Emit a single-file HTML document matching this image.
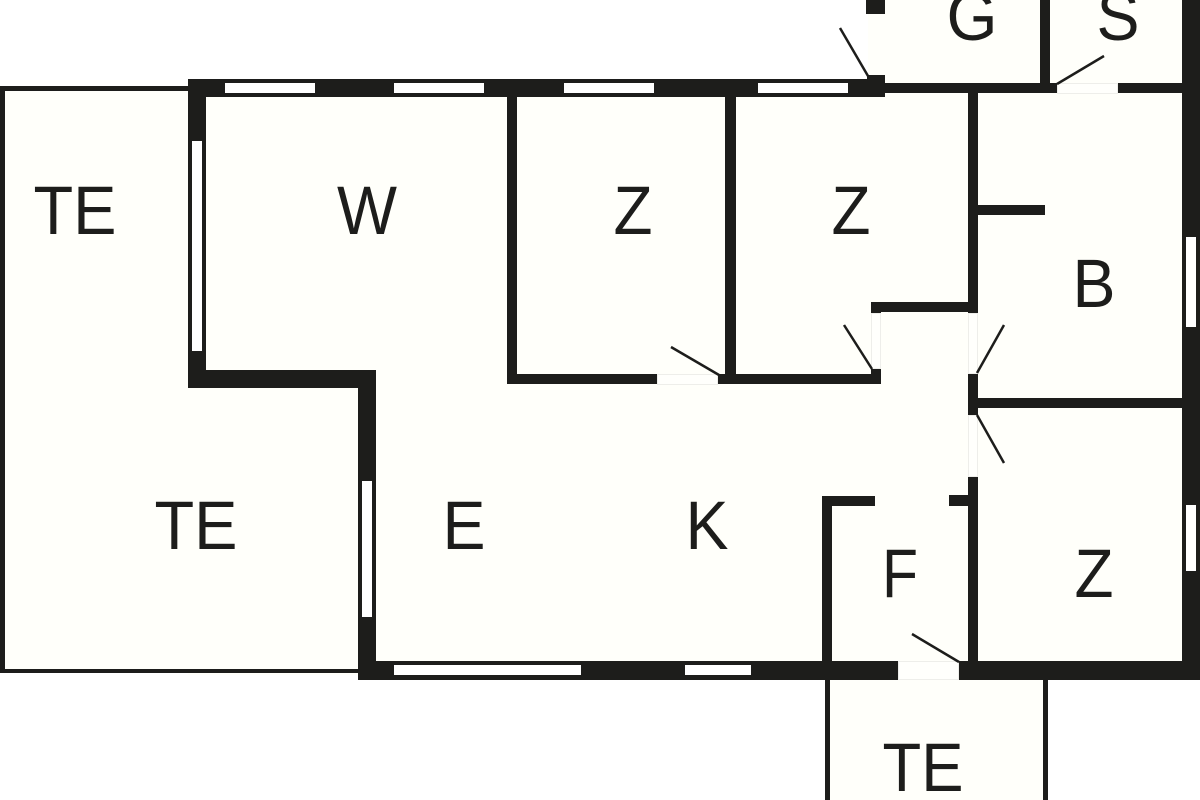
<!DOCTYPE html>
<html>
<head>
<meta charset="utf-8">
<style>
html,body{margin:0;padding:0;background:#fff}
svg{display:block}
text{font-family:"Liberation Sans",Arial,sans-serif;font-size:69px;fill:#1d1d1b;text-anchor:middle}
</style>
</head>
<body>
<svg width="1200" height="800" viewBox="0 0 1200 800" xmlns="http://www.w3.org/2000/svg">
<rect width="1200" height="800" fill="#ffffff"/>
<!-- floor fill -->
<g fill="#fffffa">
<rect x="0" y="86" width="200" height="587"/>
<rect x="190" y="370" width="186" height="303"/>
<rect x="188" y="80" width="1012" height="595"/>
<rect x="868" y="0" width="320" height="90"/>
<rect x="825" y="670" width="223" height="130"/>
</g>
<!-- walls -->
<g fill="#1d1d1b">
<!-- terrace outlines -->
<rect x="0" y="86" width="190" height="5"/>
<rect x="0" y="86" width="5" height="587"/>
<rect x="0" y="669" width="360" height="4"/>
<rect x="825" y="679" width="5" height="121"/>
<rect x="1043" y="679" width="5" height="121"/>
<!-- outer heavy walls -->
<rect x="188" y="79" width="697" height="18"/>
<rect x="867" y="75" width="18" height="22"/>
<rect x="188" y="79" width="18" height="309"/>
<rect x="188" y="370" width="188" height="18"/>
<rect x="358" y="370" width="18" height="310"/>
<rect x="358" y="661" width="540" height="19"/>
<rect x="959" y="661" width="241" height="19"/>
<rect x="1182" y="0" width="18" height="680"/>
<!-- G block -->
<rect x="866" y="0" width="19" height="14"/>
<!-- thin walls -->
<rect x="885" y="83" width="172" height="10"/>
<rect x="1118" y="83" width="64" height="10"/>
<rect x="1040" y="0" width="10" height="93"/>
<rect x="968" y="93" width="10" height="220"/>
<rect x="978" y="205" width="67" height="10"/>
<rect x="871" y="302" width="107" height="10"/>
<rect x="871" y="302" width="10" height="11"/>
<rect x="871" y="368" width="10" height="16"/>
<rect x="507" y="97" width="10" height="287"/>
<rect x="725" y="97" width="11" height="287"/>
<rect x="507" y="374" width="150" height="10"/>
<rect x="718" y="374" width="163" height="10"/>
<rect x="968" y="373" width="10" height="42"/>
<rect x="978" y="398" width="204" height="10"/>
<rect x="968" y="477" width="10" height="185"/>
<rect x="949" y="495" width="19" height="11"/>
<rect x="822" y="496" width="53" height="10"/>
<rect x="822" y="496" width="10" height="166"/>
</g>
<!-- windows -->
<g fill="#ffffff">
<rect x="225" y="83" width="90" height="10"/>
<rect x="394" y="83" width="90" height="10"/>
<rect x="564" y="83" width="90" height="10"/>
<rect x="758" y="83" width="90" height="10"/>
<rect x="192" y="141" width="10" height="210"/>
<rect x="362" y="481" width="10" height="136"/>
<rect x="394" y="665" width="187" height="10"/>
<rect x="685" y="665" width="66" height="10"/>
<rect x="1186" y="237" width="10" height="90"/>
<rect x="1186" y="505" width="10" height="66"/>
</g>
<!-- door openings -->
<g fill="#fffffc" stroke="#eeeeea" stroke-width="1">
<rect x="1057.5" y="83.5" width="60" height="10"/>
<rect x="657.5" y="374.5" width="60" height="10"/>
<rect x="871.5" y="313.5" width="9" height="55"/>
<rect x="968.5" y="313.5" width="9" height="60"/>
<rect x="968.5" y="415.5" width="9" height="61"/>
<rect x="898.5" y="661.5" width="60" height="18"/>
</g>
<!-- door leaves -->
<g stroke="#1d1d1b" stroke-width="2.5" fill="none">
<line x1="840" y1="28" x2="868" y2="76"/>
<line x1="1057" y1="84" x2="1104" y2="56"/>
<line x1="671" y1="347" x2="719" y2="375"/>
<line x1="844" y1="325" x2="872" y2="369"/>
<line x1="1004" y1="325" x2="977" y2="373"/>
<line x1="1004" y1="463" x2="977" y2="415"/>
<line x1="912" y1="634" x2="959" y2="662"/>
</g>
<!-- labels -->
<text x="75" y="234" textLength="83" lengthAdjust="spacingAndGlyphs">TE</text>
<text x="367" y="234" textLength="60" lengthAdjust="spacingAndGlyphs">W</text>
<text x="633" y="234" textLength="39" lengthAdjust="spacingAndGlyphs">Z</text>
<text x="851" y="234" textLength="39" lengthAdjust="spacingAndGlyphs">Z</text>
<text x="1094" y="307" textLength="43" lengthAdjust="spacingAndGlyphs">B</text>
<text x="196" y="549" textLength="83" lengthAdjust="spacingAndGlyphs">TE</text>
<text x="464" y="549" textLength="43" lengthAdjust="spacingAndGlyphs">E</text>
<text x="707" y="549" textLength="43" lengthAdjust="spacingAndGlyphs">K</text>
<text x="900" y="597" textLength="36" lengthAdjust="spacingAndGlyphs">F</text>
<text x="1094" y="597" textLength="39" lengthAdjust="spacingAndGlyphs">Z</text>
<text x="923" y="791" textLength="81" lengthAdjust="spacingAndGlyphs">TE</text>
<text x="972" y="40" textLength="51" lengthAdjust="spacingAndGlyphs">G</text>
<text x="1118" y="40" textLength="43" lengthAdjust="spacingAndGlyphs">S</text>
</svg>
</body>
</html>
